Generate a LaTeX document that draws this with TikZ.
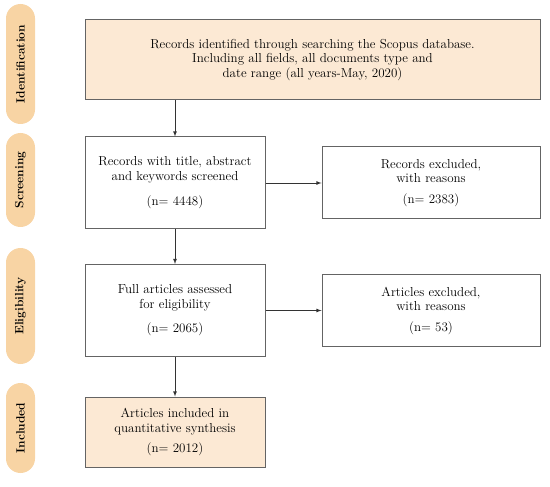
\documentclass[tikz,border=0pt]{standalone}
\usepackage{xcolor}
\usepackage{tikz}
\usetikzlibrary{shapes.geometric, arrows, positioning, calc}

\definecolor{phasefill}{RGB}{248,212,164}
\definecolor{peach}{RGB}{252,233,212}
\definecolor{edgegray}{RGB}{100,100,100}

\begin{document}
\begin{tikzpicture}[
    x=1pt, y=-1pt,
    box/.style={rectangle, draw=edgegray, line width=1pt, fill=white, align=center, font=\fontsize{13}{14.5}\selectfont, inner sep=0pt},
    keybox/.style={box, fill=peach},
    phase/.style={rectangle, rounded corners=14.5pt, fill=phasefill, minimum width=29pt, inner sep=0pt},
    phaselabel/.style={rotate=90, font=\bfseries\fontsize{12}{13}\selectfont},
    arrow/.style={-latex, line width=0.8pt, draw=black!80}
]
\useasboundingbox (0,0) rectangle (550,487);

% phase markers on the left
\node[phase, minimum height=120pt] (pid) at (20.5,64) {};
\node[phaselabel] at (pid) {Identification};
\node[phase, minimum height=94pt] (psc) at (20.5,180) {};
\node[phaselabel] at (psc) {Screening};
\node[phase, minimum height=116pt] (pel) at (20.5,306) {};
\node[phaselabel] at (pel) {Eligibility};
\node[phase, minimum height=90pt] (pin) at (20.5,428) {};
\node[phaselabel] at (pin) {Included};

% flow boxes
\node[keybox, minimum width=455pt, minimum height=80pt] (ident) at (312.5,60)
    {Records identified through searching the Scopus database.\\
     Including all fields, all documents type and\\
     date range (all years-May, 2020)};
\node[box, minimum width=180pt, minimum height=92pt] (screen) at (175,183)
    {Records with title, abstract\\ and keywords screened\\[11pt] (n= 4448)};
\node[box, minimum width=218pt, minimum height=72pt] (excl1) at (431,183)
    {Records excluded,\\ with reasons\\[6pt] (n= 2383)};
\node[box, minimum width=180pt, minimum height=92pt] (elig) at (175,310.5)
    {Full articles assessed\\ for eligibility\\[10pt] (n= 2065)};
\node[box, minimum width=218pt, minimum height=72pt] (excl2) at (431,310.5)
    {Articles excluded,\\ with reasons\\[6pt] (n= 53)};
\node[keybox, minimum width=180pt, minimum height=70pt] (incl) at (175,432)
    {Articles included in\\ quantitative synthesis\\[6pt] (n= 2012)};

\draw[arrow] (ident.south -| screen.north) -- (screen);
\draw[arrow] (screen) -- (excl1);
\draw[arrow] (screen) -- (elig);
\draw[arrow] (elig) -- (excl2);
\draw[arrow] (elig) -- (incl);

\end{tikzpicture}
\end{document}
